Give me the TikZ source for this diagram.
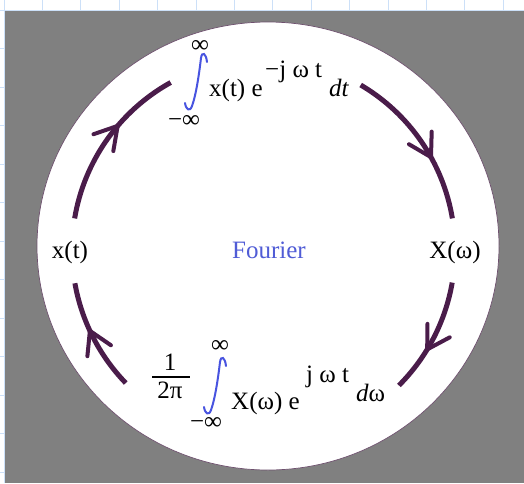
\documentclass[tikz,border=0pt]{standalone}
\usepackage{fontspec}
\setmainfont{Liberation Serif}
\usetikzlibrary{decorations.markings}
\definecolor{arcc}{RGB}{74,28,74}
\definecolor{fblue}{RGB}{80,92,214}
\definecolor{ibl}{RGB}{72,84,224}
\definecolor{gridc}{RGB}{204,224,248}
\definecolor{bgc}{RGB}{128,128,128}
\definecolor{rim}{RGB}{110,80,110}
\begin{document}
\begin{tikzpicture}[x=1pt,y=-1pt,
  txt/.style={font=\fontsize{25}{28}\selectfont, inner sep=0pt},
  arcline/.style={draw=arcc, line width=5pt},
  midarrow/.style={postaction={decorate}, decoration={markings,
    mark=at position #1 with {\draw[arcc, line width=4pt, line cap=round, line join=round] (-22pt,13pt) -- (0pt,0pt) -- (-22pt,-13pt);}}},
  intsign/.style={draw=ibl, line width=2pt, line cap=round}]
\useasboundingbox (0,0) rectangle (524,483);
\fill[white] (0,0) rectangle (524,483);
\foreach \i in {0,...,13} \draw[gridc, line width=0.8pt] ({4+38.4*\i},0) -- ++(0,483);
\foreach \j in {0,...,12} \draw[gridc, line width=0.8pt] (0,{10+38.5*\j}) -- ++(524,0);
\fill[bgc] (5,11) rectangle (524,483);
\draw[rim, line width=0.7pt, fill=white] (268,246) ellipse [x radius=231, y radius=224];

\coordinate (c) at (263.5,250);
\draw[arcline, midarrow=0.6] (c) ++(-170.5:191.5) arc[start angle=-170.5, end angle=-119, radius=191.5];
\draw[arcline, midarrow=0.61] (c) ++(-59.5:191.5) arc[start angle=-59.5, end angle=-9.5, radius=191.5];
\draw[arcline, midarrow=0.61] (c) ++(9.8:191.5) arc[start angle=9.8, end angle=45, radius=191.5];
\draw[arcline, midarrow=0.56] (c) ++(136:191.5) arc[start angle=136, end angle=170, radius=191.5];

\node[txt] (xt) at (70,252) {x(t)};
\node[txt] (Xw) at (455,252) {X(ω)};
\node[txt, text=fblue] (four) at (269,250) {Fourier};

% top formula
\draw[intsign] (207,62) .. controls (206,53) and (202,51) .. (201,58) .. controls (199,75) and (196,95) .. (192,106) .. controls (190,112) and (186,110) .. (185,103);
\node[txt] (tinf) at (200,46) {∞};
\node[txt] (tminf) at (184,121) {−∞};
\node[txt, anchor=base west] (tbody) at (209,96) {x(t) e};
\node[txt, anchor=base west] (tsup) at (265,77) {−j ω t};
\node[txt, anchor=base west] (tdt) at (329,96) {\itshape dt};

% bottom formula
\node[txt] (one) at (170,362) {1};
\draw[line width=1.2pt] (152,377) -- (190,377);
\node[txt] (twopi) at (170,390) {2π};
\draw[intsign] (226,366) .. controls (225,357) and (221,355) .. (220,362) .. controls (218,379) and (215,399) .. (211,410) .. controls (209,416) and (205,414) .. (204,407);
\node[txt] (binf) at (220,346) {∞};
\node[txt] (bminf) at (206,423) {−∞};
\node[txt, anchor=base west] (bbody) at (231,409) {X(ω) e};
\node[txt, anchor=base west] (bsup) at (306,382) {j ω t};
\node[txt, anchor=base west] (bdw) at (356,401) {\itshape d\upshape ω};
\end{tikzpicture}
\end{document}
